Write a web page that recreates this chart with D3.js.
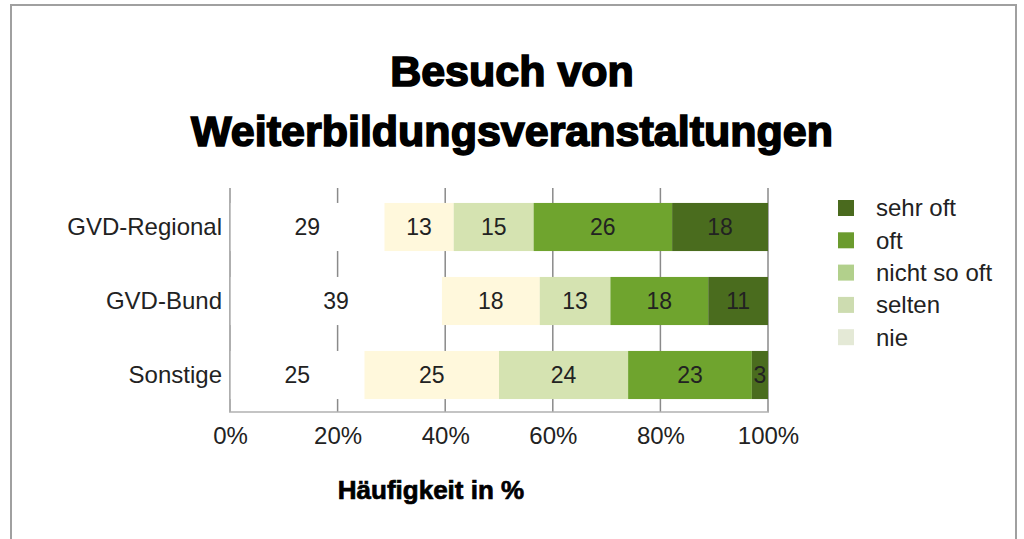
<!DOCTYPE html>
<html>
<head>
<meta charset="utf-8">
<script src="https://cdn.jsdelivr.net/npm/d3@7"></script>
<style>
  body { margin: 0; background: #fff; }
  text { font-family: "Liberation Sans", Arial, sans-serif; }
</style>
</head>
<body>
<svg></svg>
<script>
var categories = ["GVD-Regional", "GVD-Bund", "Sonstige"];
var seriesNames = ["nie", "selten", "nicht so oft", "oft", "sehr oft"];
var nie = [29, 39, 25];
var selten = [13, 18, 25];
var nichtSoOft = [15, 13, 24];
var oft = [26, 18, 23];
var sehrOft = [18, 11, 3];
var xTicks = [0, 20, 40, 60, 80, 100];
var barColors = ["#ffffff", "#fff8dc", "#d5e3b1", "#6fa42e", "#4a6c1e"];
var legendColors = ["#e4e9d6", "#cddcb0", "#b2d08c", "#6b9b2e", "#4a6a1e"];

var width = 1024, height = 539;
var svg = d3.select("svg").attr("width", width).attr("height", height);

// frame
svg.append("path")
    .attr("d", "M11,540 V5 H1016 V540")
    .attr("fill", "none")
    .attr("stroke", "#a0a0a0")
    .attr("stroke-width", 2);

// title
[["Besuch von", 86], ["Weiterbildungsveranstaltungen", 146]].forEach(function(t) {
  svg.append("text")
    .attr("x", 512).attr("y", t[1])
    .attr("text-anchor", "middle")
    .attr("font-size", 43)
    .attr("font-weight", "bold")
    .attr("stroke", "#000").attr("stroke-width", 1.6)
    .attr("fill", "#000")
    .text(t[0]);
});

var rows = categories.map(function(c, i) {
  return { cat: c, values: [nie[i], selten[i], nichtSoOft[i], oft[i], sehrOft[i]] };
});

// percent scale: rows are normalised to 100 %
var x = d3.scaleLinear().domain([0, 100]).range([230, 768]);
var y = d3.scaleBand().domain(categories).range([190, 412]).paddingInner(0.35).paddingOuter(0.175);

// gridlines
svg.append("g").selectAll("line")
  .data(xTicks)
  .enter().append("line")
    .attr("x1", function(d) { return x(d); })
    .attr("x2", function(d) { return x(d); })
    .attr("y1", 188).attr("y2", 412)
    .attr("stroke", "#8a8a8a").attr("stroke-width", 1.5);

// bars
var stack = d3.stack().keys(d3.range(5))
  .value(function(d, k) { return d.values[k]; })
  .offset(d3.stackOffsetExpand);
var layers = stack(rows);

var layer = svg.append("g").selectAll("g")
  .data(layers)
  .enter().append("g")
    .attr("fill", function(d, i) { return barColors[i]; });

layer.selectAll("rect")
  .data(function(d) { return d; })
  .enter().append("rect")
    .attr("x", function(d) { return x(d[0] * 100); })
    .attr("width", function(d) { return x(d[1] * 100) - x(d[0] * 100); })
    .attr("y", function(d) { return y(d.data.cat); })
    .attr("height", y.bandwidth());

layer.selectAll("text")
  .data(function(d) { return d.map(function(p) { p.key = d.key; return p; }); })
  .enter().append("text")
    .attr("x", function(d) { return (x(d[0] * 100) + x(d[1] * 100)) / 2; })
    .attr("y", function(d) { return y(d.data.cat) + y.bandwidth() / 2; })
    .attr("dy", "0.35em")
    .attr("text-anchor", "middle")
    .attr("font-size", 23)
    .attr("fill", "#222")
    .text(function(d) { return d.data.values[d.key]; });

// axes lines
svg.append("line").attr("x1", 230).attr("x2", 230).attr("y1", 188).attr("y2", 412)
  .attr("stroke", "#b0b0b0").attr("stroke-width", 1.5);
svg.append("line").attr("x1", 229).attr("x2", 769).attr("y1", 412).attr("y2", 412)
  .attr("stroke", "#b0b0b0").attr("stroke-width", 1.5);

// x axis labels
var xAxis = d3.axisBottom(x).tickValues(xTicks).tickSize(0).tickPadding(15)
  .tickFormat(function(d) { return d + "%"; });
var gx = svg.append("g").attr("transform", "translate(0,412)").call(xAxis);
gx.select(".domain").remove();
gx.selectAll("text").attr("font-size", 24).attr("fill", "#222")
  .style("font-family", "'Liberation Sans', Arial, sans-serif");

// y axis labels
var yAxis = d3.axisLeft(y).tickSize(0).tickPadding(8);
var gy = svg.append("g").attr("transform", "translate(230,0)").call(yAxis);
gy.select(".domain").remove();
gy.selectAll("text").attr("font-size", 24).attr("fill", "#222")
  .style("font-family", "'Liberation Sans', Arial, sans-serif");

// axis title
svg.append("text")
  .attr("x", 431).attr("y", 499)
  .attr("text-anchor", "middle")
  .attr("font-size", 26)
  .attr("font-weight", "bold")
  .attr("stroke", "#000").attr("stroke-width", 0.7)
  .text("Häufigkeit in %");

// legend
var legendOrder = d3.range(5).reverse();
var legend = svg.append("g").selectAll("g")
  .data(legendOrder)
  .enter().append("g")
    .attr("transform", function(d, i) { return "translate(838," + (200 + i * 32.3) + ")"; });
legend.append("rect")
  .attr("width", 16).attr("height", 16)
  .attr("fill", function(d) { return legendColors[d]; });
legend.append("text")
  .attr("x", 38).attr("y", 8).attr("dy", "0.35em")
  .attr("font-size", 24).attr("fill", "#222")
  .text(function(d) { return seriesNames[d]; });
</script>
</body>
</html>
